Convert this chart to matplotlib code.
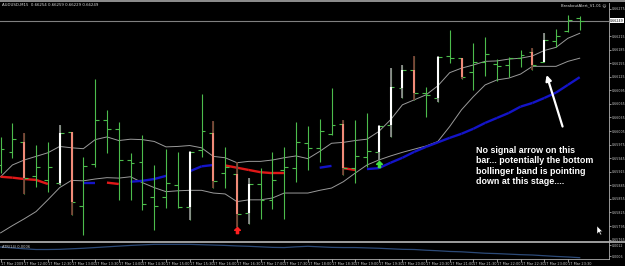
import matplotlib
matplotlib.use('Agg')
import matplotlib.pyplot as plt
from matplotlib.lines import Line2D
from matplotlib.patches import Polygon
from matplotlib.path import Path

# ---------------- data (AUDUSD M15, 17 Mar 2009) ----------------
opens = [0.65930, 0.65959, 0.65981, 0.65906, 0.65897, 0.65891, 0.66003, 0.65840, 0.65933, 0.66030,
         0.66010, 0.65941, 0.65937, 0.65860, 0.65860, 0.65886, 0.65838, 0.65964, 0.66001, 0.65913,
         0.65911, 0.65824, 0.65888, 0.65853, 0.65919, 0.65924, 0.65979, 0.65968, 0.65999, 0.66021,
         0.65924, 0.65948, 0.65959, 0.66019, 0.66100, 0.66140, 0.66089, 0.66078, 0.66171, 0.66167,
         0.66136, 0.66158, 0.66154, 0.66151, 0.66167, 0.66180, 0.66158, 0.66204, 0.66226, 0.66254]
highs = [0.65992, 0.66023, 0.66001, 0.65975, 0.65981, 0.66019, 0.66003, 0.65948, 0.66120, 0.66052,
         0.66025, 0.65957, 0.65997, 0.65930, 0.65966, 0.65959, 0.65961, 0.66087, 0.66028, 0.65970,
         0.65937, 0.65902, 0.65924, 0.65959, 0.65970, 0.66025, 0.66017, 0.66032, 0.66100, 0.66030,
         0.66030, 0.66045, 0.66019, 0.66145, 0.66151, 0.66171, 0.66103, 0.66171, 0.66229, 0.66167,
         0.66200, 0.66213, 0.66165, 0.66169, 0.66185, 0.66189, 0.66222, 0.66231, 0.66262, 0.66259]
lows = [0.65913, 0.65946, 0.65866, 0.65882, 0.65871, 0.65886, 0.65820, 0.65776, 0.65926, 0.65957,
        0.65853, 0.65853, 0.65831, 0.65787, 0.65835, 0.65835, 0.65809, 0.65948, 0.65880, 0.65880,
        0.65793, 0.65800, 0.65811, 0.65833, 0.65811, 0.65893, 0.65919, 0.65937, 0.65997, 0.65908,
        0.65891, 0.65926, 0.65941, 0.65992, 0.66078, 0.66074, 0.66036, 0.66070, 0.66156, 0.66120,
        0.66096, 0.66127, 0.66116, 0.66125, 0.66147, 0.66140, 0.66158, 0.66191, 0.66224, 0.66229]
closes = [0.65966, 0.65988, 0.65902, 0.65926, 0.65926, 0.66001, 0.65849, 0.65928, 0.66030, 0.66010,
          0.65941, 0.65935, 0.65844, 0.65840, 0.65891, 0.65838, 0.65959, 0.66006, 0.65895, 0.65926,
          0.65822, 0.65888, 0.65853, 0.65897, 0.65926, 0.65981, 0.65968, 0.66006, 0.66019, 0.65924,
          0.65950, 0.65961, 0.66017, 0.66103, 0.66140, 0.66089, 0.66085, 0.66169, 0.66167, 0.66125,
          0.66158, 0.66176, 0.66149, 0.66167, 0.66173, 0.66151, 0.66207, 0.66215, 0.66251, 0.66249]
# g = plain bar, w = strong bullish (white body), s = strong bearish (salmon body)
bar_kind = "ggsggwsggg" "ggggggwgsg" "swgggggggs" "ggwwwsgwgs" "gggggswggg"

band_upper = [0.65904, 0.65930, 0.65941, 0.65949, 0.65957, 0.65971, 0.65968, 0.65966, 0.65986, 0.65992,
              0.65984, 0.65987, 0.65986, 0.65982, 0.65970, 0.65971, 0.65973, 0.65968, 0.65949, 0.65946,
              0.65935, 0.65938, 0.65938, 0.65941, 0.65946, 0.65950, 0.65944, 0.65960, 0.65978, 0.65980,
              0.65984, 0.65987, 0.66004, 0.66030, 0.66063, 0.66074, 0.66085, 0.66105, 0.66134, 0.66144,
              0.66151, 0.66159, 0.66160, 0.66164, 0.66166, 0.66171, 0.66183, 0.66190, 0.66210, 0.66221]
band_lower = [0.65780, 0.65796, 0.65811, 0.65827, 0.65853, 0.65880, 0.65896, 0.65895, 0.65899, 0.65902,
              0.65901, 0.65904, 0.65891, 0.65880, 0.65871, 0.65873, 0.65874, 0.65874, 0.65868, 0.65866,
              0.65849, 0.65853, 0.65853, 0.65857, 0.65868, 0.65868, 0.65868, 0.65874, 0.65879, 0.65893,
              0.65912, 0.65930, 0.65941, 0.65950, 0.65958, 0.65965, 0.65972, 0.65982, 0.66015, 0.66052,
              0.66081, 0.66107, 0.66118, 0.66122, 0.66131, 0.66148, 0.66148, 0.66148, 0.66159, 0.66166]
ma = [0.65904, 0.65902, 0.65899, 0.65897, 0.65888, 0.65888, 0.65888, 0.65891, 0.65891, 0.65891,
      0.65888, 0.65893, 0.65895, 0.65899, 0.65906, 0.65911, 0.65916, 0.65927, 0.65930, 0.65929,
      0.65924, 0.65919, 0.65914, 0.65912, 0.65912, 0.65915, 0.65919, 0.65924, 0.65928, 0.65923,
      0.65919, 0.65921, 0.65923, 0.65935, 0.65946, 0.65959, 0.65970, 0.65980, 0.65990, 0.65999,
      0.66010, 0.66023, 0.66034, 0.66045, 0.66059, 0.66067, 0.66078, 0.66090, 0.66107, 0.66124]
ma_trend = "rrrrrbrbbr" "rbbbbrbbbr" "rrrrrbrbbr" "rbbbbbbbbb" "bbbbbbbbbb"

atr = [0.00111, 0.00106, 0.00101, 0.00097, 0.00097, 0.00098, 0.00101, 0.00104, 0.00108, 0.00112,
       0.00116, 0.00120, 0.00123, 0.00126, 0.00126, 0.00126, 0.00126, 0.00124, 0.00122, 0.00120,
       0.00117, 0.00115, 0.00112, 0.00109, 0.00108, 0.00112, 0.00115, 0.00112, 0.00109, 0.00108,
       0.00108, 0.00106, 0.00104, 0.00101, 0.00098, 0.00097, 0.00093, 0.00090, 0.00086, 0.00084,
       0.00080, 0.00076, 0.00074, 0.00071, 0.00068, 0.00066, 0.00062, 0.00058, 0.00055, 0.00051]

signal_bars = [20, 32]
signal_prices = [0.65787, 0.65933]
signal_colors = ['#ff2020', '#40e040']

bid = 0.66249
price_ticks = [0.66275, 0.66245, 0.66215, 0.66185, 0.66155, 0.66125, 0.66095, 0.66065, 0.66035,
               0.66005, 0.65975, 0.65945, 0.65915, 0.65885, 0.65855, 0.65825, 0.65795, 0.65765]
atr_ticks = [0.0012, 0.0006]
time_tick_bars = list(range(0, 50, 2))
time_labels = ['17 Mar 2009'] + ['17 Mar %02d:%02d' % (12 + k // 2, 30 * (k % 2)) for k in range(24)]

note = ("No signal arrow on this\nbar... potentially the bottom\n"
        "bollinger band is pointing\ndown at this stage....")

# ---------------- figure ----------------
W, H = 625, 266
fig = plt.figure(figsize=(W / 100, H / 100), dpi=100, facecolor='black')

def fx(px):
    return px / W

def fy(py):
    return 1 - py / H

GREEN = '#4cbc4c'
SALMON = '#f08a78'
GRAY = '#9a9a9a'
AXC = '#c8c8c8'
TICKFS = 2.3

ax = fig.add_axes([0, fy(241), fx(609), (241 - 3) / H], facecolor='black')
ax2 = fig.add_axes([0, fy(258.5), fx(609), (258.5 - 242.5) / H], facecolor='black')

n = len(opens)
xs = list(range(n))
tick_len = 0.33

# bollinger lines
ax.plot(xs, band_upper, color=GRAY, lw=0.7, zorder=2)
ax.plot(xs, band_lower, color=GRAY, lw=0.7, zorder=2)

# colour-changing MA
for i in range(n - 1):
    if ma_trend[i] == ma_trend[i + 1]:
        c = '#e01818' if ma_trend[i] == 'r' else '#1414c8'
        ax.plot([i, i + 1], [ma[i], ma[i + 1]], color=c, lw=1.7, solid_capstyle='butt', zorder=3)

# bars
for i in range(n):
    o, h, l, c = opens[i], highs[i], lows[i], closes[i]
    k = bar_kind[i]
    ax.vlines(i, l, h, color=GREEN, lw=0.8, zorder=4)
    ax.hlines(o, i - tick_len, i, color=GREEN, lw=0.8, zorder=4)
    ax.hlines(c, i, i + tick_len, color=GREEN, lw=0.8, zorder=4)
    if k == 'w':
        ax.vlines(i, l, h, color='#8c8c8c', lw=1.3, zorder=5)
        ax.vlines(i, min(o, c), max(o, c), color='white', lw=1.5, zorder=6)
    elif k == 's':
        ax.vlines(i, l, h, color='#7a4438', lw=1.3, zorder=5)
        ax.vlines(i, min(o, c), max(o, c), color=SALMON, lw=1.5, zorder=6)

# signal arrows
arrow_marker = Path([(0, 1), (-0.9, 0.05), (-0.35, 0.05), (-0.35, -1), (0.35, -1),
                     (0.35, 0.05), (0.9, 0.05), (0, 1)])
for b, p, c in zip(signal_bars, signal_prices, signal_colors):
    ax.plot([b], [p], marker=arrow_marker, markersize=4.5, color=c, mec=c, ls='none', zorder=7)

# bid line
ax.axhline(bid, color='#808080', lw=0.8, zorder=1)

ax.set_xlim(-0.05, 51.48)
ax.set_ylim(0.65762, 0.66288)
ax.yaxis.tick_right()
shown = [t for t in price_ticks if abs(t - bid) > 0.0001]
ax.set_yticks(shown)
ax.set_yticklabels(['%.5f' % t for t in shown])
ax.tick_params(axis='y', colors=AXC, labelsize=TICKFS, length=1.2, width=0.5, pad=0.6)
ax.set_xticks([])
for s in ['top', 'left', 'bottom']:
    ax.spines[s].set_visible(False)
ax.spines['right'].set_color('#b0b0b0')
ax.spines['right'].set_linewidth(0.6)

# current price label
ax.text(1.002, bid, '%.5f' % bid, transform=ax.get_yaxis_transform(), fontsize=TICKFS,
        color='black', va='center', ha='left',
        bbox=dict(boxstyle='square,pad=0.12', fc='white', ec='none'), clip_on=False)

# annotation
ax.annotate('', xy=(46.2, 0.66129), xytext=(47.55, 0.66015),
            arrowprops=dict(arrowstyle='-|>', color='white', lw=1.6, mutation_scale=8,
                            shrinkA=0, shrinkB=0), zorder=8)
fig.text(fx(476), fy(146), note, fontsize=6.4, fontweight='bold', color='white',
         family=['Liberation Sans', 'DejaVu Sans'], va='top', ha='left', linespacing=1.2)

# ATR panel
ax2.plot(xs, atr, color='#2c4a78', lw=0.9)
ax2.set_xlim(-0.05, 51.48)
ax2.set_ylim(0.000464, 0.001364)
ax2.yaxis.tick_right()
ax2.set_yticks(atr_ticks)
ax2.set_yticklabels(['%.4f' % t for t in atr_ticks])
ax2.tick_params(axis='y', colors=AXC, labelsize=TICKFS, length=1.2, width=0.5, pad=0.6)
ax2.set_xticks(time_tick_bars)
ax2.set_xticklabels(time_labels)
ax2.tick_params(axis='x', colors=AXC, labelsize=2.5, length=2, width=0.5, pad=0.6)
for t in ax2.get_xticklabels():
    t.set_ha('left')
for s in ['top', 'left']:
    ax2.spines[s].set_visible(False)
ax2.spines['right'].set_color('#b0b0b0')
ax2.spines['right'].set_linewidth(0.6)
ax2.spines['bottom'].set_color('#b0b0b0')
ax2.spines['bottom'].set_linewidth(0.6)
ax2.text(0.003, 0.75, 'ATR(14) 0.0006', transform=ax2.transAxes, fontsize=2.6, color=AXC,
         va='center', ha='left')

# frame lines and header texts
fig.add_artist(Line2D([0, 1], [fy(1), fy(1)], color='#a8a8a8', lw=1.2))
fig.add_artist(Line2D([0, 1], [fy(241.8), fy(241.8)], color='#b8b8b8', lw=1.2))
fig.text(fx(2), fy(5), 'AUDUSD,M15  0.66254 0.66259 0.66229 0.66249', fontsize=2.8,
         color='#d8d8d8', va='center', ha='left')
fig.text(fx(606), fy(5.7), 'BreakoutAlert_V1.01 \u263a', fontsize=2.8, color='#d8d8d8',
         va='center', ha='right')

# mouse pointer
cx, cy = 597, 226
pts = [(0, 0), (0, 8), (2, 6), (3.5, 9), (4.5, 8.5), (3.2, 5.6), (5.5, 5.6)]
fig.add_artist(Polygon([(fx(cx + a), fy(cy + b)) for a, b in pts], closed=True,
                       transform=fig.transFigure, fc='white', ec='black', lw=0.3))

fig.savefig('out.png', dpi=100, facecolor='black')
